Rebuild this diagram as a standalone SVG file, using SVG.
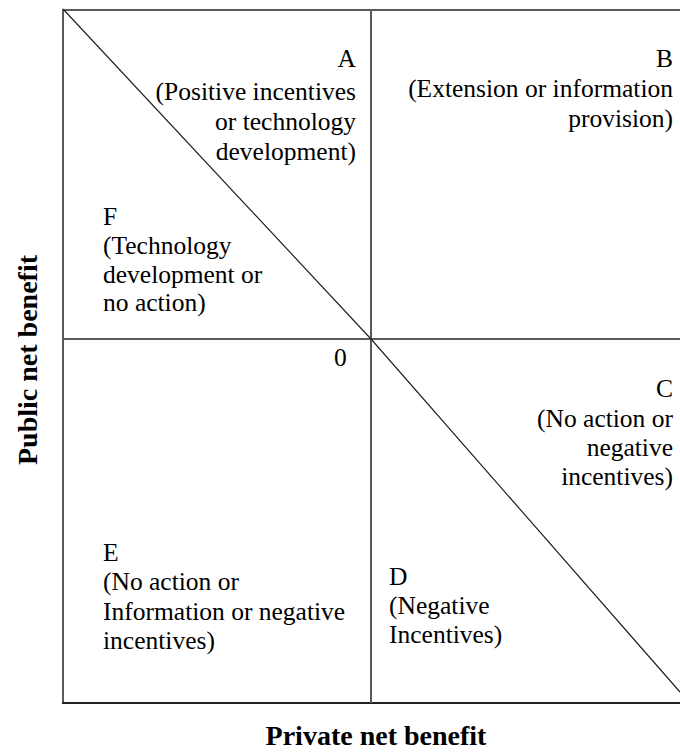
<svg xmlns="http://www.w3.org/2000/svg" width="680" height="752" viewBox="0 0 680 752">
<style>
.t{font-family:"Liberation Serif","Times New Roman",serif;font-size:25.5px;fill:#000}
.r{text-anchor:end}
.ax{font-family:"Liberation Serif","Times New Roman",serif;font-size:28px;font-weight:bold;fill:#000;text-anchor:middle}
.frame{stroke:#5a5a5a;stroke-width:2;fill:none}
.diag{stroke:#222;stroke-width:1.2;fill:none}
</style>
<rect width="680" height="752" fill="#fff"/>
<g id="connectors">
<line class="frame" x1="63" y1="10" x2="680" y2="10"/>
<line class="frame" x1="63" y1="9" x2="63" y2="704"/>
<line x1="62" y1="703" x2="680" y2="703" stroke="#222" stroke-width="2"/>
<line class="frame" x1="371" y1="10" x2="371" y2="703"/>
<line class="frame" x1="63" y1="339" x2="680" y2="339"/>
<polyline class="diag" points="63,9 371,339 680,692"/>
</g>
<g id="A"><text class="t r" x="356" y="67">A</text><text class="t r" x="356" y="100">(Positive incentives</text><text class="t r" x="356" y="130">or technology</text><text class="t r" x="356" y="160">development)</text></g>
<g id="B"><text class="t r" x="673" y="97" dy="-30">B</text><text class="t r" x="673" y="97">(Extension or information</text><text class="t r" x="673" y="127">provision)</text></g>
<g id="F"><text class="t" x="103" y="225">F</text><text class="t" x="103" y="254">(Technology</text><text class="t" x="103" y="283">development or</text><text class="t" x="103" y="311">no action)</text></g>
<g id="O"><text class="t" x="334" y="366">0</text></g>
<g id="C"><text class="t r" x="673" y="397">C</text><text class="t r" x="673" y="427">(No action or</text><text class="t r" x="673" y="456">negative</text><text class="t r" x="673" y="485">incentives)</text></g>
<g id="E"><text class="t" x="103" y="561">E</text><text class="t" x="103" y="590">(No action or</text><text class="t" x="103" y="620">Information or negative</text><text class="t" x="103" y="649">incentives)</text></g>
<g id="D"><text class="t" x="389" y="585">D</text><text class="t" x="389" y="614">(Negative</text><text class="t" x="389" y="643">Incentives)</text></g>
<g id="xlabel"><text class="ax" x="376" y="745">Private net benefit</text></g>
<g id="ylabel"><text class="ax" transform="translate(37,360) rotate(-90)">Public net benefit</text></g>
</svg>
